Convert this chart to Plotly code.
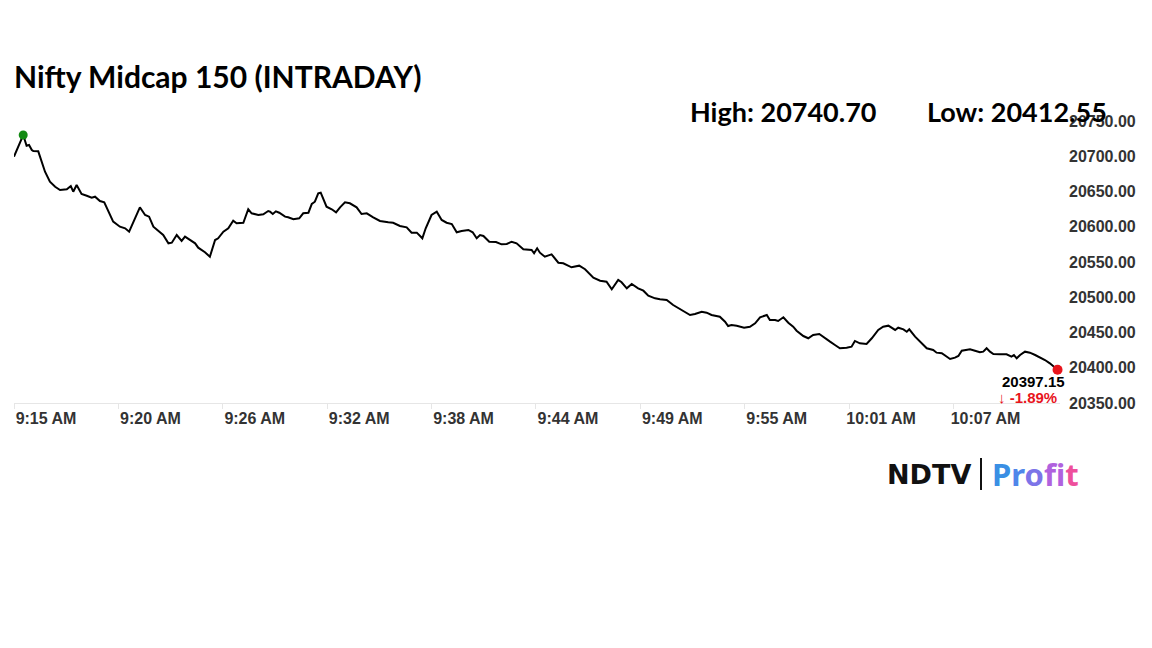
import plotly.graph_objects as go

# ---- data (seconds elapsed since 9:15 AM, index level) ----
elapsed_sec = [
    0, 30, 41, 49, 58, 63, 79, 90, 101, 117,
    134, 150, 172, 185, 193, 204, 220, 237, 253, 264,
    280, 294, 307, 323, 345, 362, 375, 389, 410, 427,
    440, 454, 470, 486, 503, 514, 530, 546, 557, 573,
    590, 600, 622, 638, 655, 665, 682, 698, 714, 725,
    747, 763, 774, 796, 812, 828, 834, 843, 853, 864,
    883, 893, 910, 929, 942, 959, 970, 980, 991, 999,
    1007, 1018, 1035, 1049, 1062, 1078, 1094, 1116, 1132, 1149,
    1170, 1192, 1219, 1235, 1257, 1279, 1295, 1312, 1330, 1341,
    1360, 1377, 1393, 1409, 1426, 1442, 1458, 1480, 1494, 1507,
    1518, 1529, 1548, 1570, 1588, 1605, 1621, 1637, 1659, 1679,
    1686, 1694, 1704, 1713, 1729, 1751, 1773, 1789, 1816, 1841,
    1860, 1887, 1909, 1930, 1947, 1968, 1979, 1996, 2012, 2033,
    2050, 2066, 2088, 2104, 2126, 2147, 2169, 2185, 2202, 2218,
    2240, 2256, 2272, 2299, 2316, 2326, 2337, 2354, 2378, 2397,
    2414, 2430, 2452, 2462, 2479, 2489, 2506, 2522, 2538, 2549,
    2571, 2587, 2603, 2623, 2641, 2658, 2674, 2690, 2712, 2728,
    2739, 2755, 2777, 2794, 2815, 2831, 2848, 2859, 2870, 2880,
    2897, 2908, 2916, 2935, 2956, 2973, 2994, 3005, 3022, 3038,
    3049, 3065, 3076, 3087, 3097, 3114, 3130, 3146, 3157, 3168,
    3179, 3190, 3211, 3233, 3249, 3257, 3266, 3277, 3293, 3309,
    3326, 3342, 3358, 3374, 3399,
]

price = [
    20699.4, 20730.1, 20715.0, 20716.0, 20708.9, 20707.4, 20707.0, 20692.3, 20678.1, 20663.9,
    20656.8, 20652.1, 20653.1, 20657.8, 20649.7, 20659.2, 20646.5, 20644.0, 20641.2, 20642.6,
    20636.5, 20634.7, 20622.3, 20607.2, 20600.1, 20597.8, 20593.0, 20607.2, 20627.6, 20616.7,
    20614.3, 20600.1, 20594.0, 20588.3, 20576.5, 20577.4, 20588.3, 20579.8, 20585.9, 20581.2,
    20576.5, 20570.3, 20563.8, 20557.5, 20581.2, 20583.6, 20593.0, 20597.8, 20608.6, 20604.9,
    20605.7, 20624.8, 20619.1, 20616.7, 20617.7, 20622.3, 20621.4, 20618.1, 20621.9, 20619.9,
    20614.3, 20613.4, 20610.6, 20612.0, 20619.1, 20619.9, 20632.3, 20635.5, 20647.4, 20648.3,
    20640.4, 20628.4, 20624.8, 20620.5, 20627.6, 20634.7, 20633.3, 20627.6, 20618.1, 20619.1,
    20613.4, 20608.2, 20606.3, 20605.7, 20601.1, 20599.2, 20591.6, 20591.6, 20583.6, 20597.8,
    20616.7, 20621.4, 20609.6, 20605.7, 20603.9, 20592.1, 20594.0, 20595.4, 20592.1, 20583.6,
    20588.3, 20586.9, 20578.8, 20578.4, 20575.1, 20575.5, 20578.8, 20576.5, 20568.0, 20568.0,
    20567.0, 20562.3, 20569.4, 20563.2, 20557.5, 20560.9, 20549.0, 20548.2, 20542.5, 20544.8,
    20539.7, 20527.7, 20523.5, 20522.1, 20511.3, 20524.5, 20521.2, 20512.7, 20518.8, 20512.7,
    20509.3, 20502.2, 20498.5, 20497.1, 20496.1, 20489.0, 20482.9, 20479.5, 20474.8, 20476.2,
    20479.5, 20478.1, 20474.8, 20472.4, 20465.3, 20459.2, 20460.6, 20459.6, 20456.8, 20458.2,
    20463.1, 20471.6, 20474.8, 20467.7, 20467.7, 20466.3, 20471.6, 20463.9, 20458.2, 20452.6,
    20445.0, 20441.8, 20446.5, 20447.9, 20441.8, 20437.0, 20432.3, 20427.6, 20428.4, 20429.9,
    20438.0, 20434.7, 20433.7, 20441.8, 20453.6, 20458.2, 20459.7, 20456.8, 20453.6, 20456.8,
    20454.5, 20451.1, 20454.5, 20444.1, 20434.7, 20427.6, 20425.2, 20421.4, 20420.5, 20415.7,
    20412.4, 20414.3, 20416.7, 20424.2, 20425.2, 20426.2, 20424.2, 20421.9, 20422.8, 20427.6,
    20422.8, 20419.5, 20419.1, 20419.1, 20415.7, 20418.1, 20413.4, 20418.1, 20422.8, 20421.4,
    20418.1, 20414.8, 20411.0, 20406.3, 20397.15,
]

tick_secs = [0, 340, 680, 1020, 1360, 1700, 2040, 2380, 2720, 3060]
tick_labels = ["9:15 AM", "9:20 AM", "9:26 AM", "9:32 AM", "9:38 AM",
               "9:44 AM", "9:49 AM", "9:55 AM", "10:01 AM", "10:07 AM"]

y_ticks = [20350, 20400, 20450, 20500, 20550, 20600, 20650, 20700, 20750]

title_text = "Nifty Midcap 150 (INTRADAY)"
day_high = "20740.70"
day_low = "20412.55"
pct_change = "-1.89%"

assert len(elapsed_sec) == len(price)

hi_idx = max(range(len(price)), key=lambda i: price[i])

fig = go.Figure()
fig.add_trace(go.Scatter(
    x=elapsed_sec, y=price, mode="lines",
    line=dict(color="#000000", width=2),
    hoverinfo="skip", showlegend=False,
))
fig.add_trace(go.Scatter(
    x=[elapsed_sec[hi_idx]], y=[price[hi_idx]], mode="markers",
    marker=dict(color="#138a13", size=9), cliponaxis=False,
    hoverinfo="skip", showlegend=False,
))
fig.add_trace(go.Scatter(
    x=[elapsed_sec[-1]], y=[price[-1]], mode="markers",
    marker=dict(color="#e8141c", size=10), cliponaxis=False,
    hoverinfo="skip", showlegend=False,
))

AX_FONT = dict(family="Liberation Sans, Arial, sans-serif", size=16, color="#333333", weight="bold")

# the page body adds an 8px offset, so the figure is drawn 8px smaller
fig.update_layout(
    width=1144, height=640,
    paper_bgcolor="white", plot_bgcolor="white",
    margin=dict(l=6, r=92, t=113, b=245, autoexpand=False),
    showlegend=False,
    xaxis=dict(
        range=[0, 3407],
        tickmode="array", tickvals=tick_secs, ticktext=tick_labels,
        showgrid=False, zeroline=False,
        showline=True, linecolor="#e6e6e6", linewidth=1,
        ticks="outside", ticklen=5, tickcolor="#e6e6e6",
        tickfont=AX_FONT, ticklabelshift=32, ticklabelstandoff=-4,
        automargin=False,
    ),
    yaxis=dict(
        range=[20350, 20750], side="right",
        tickmode="array", tickvals=y_ticks,
        ticktext=[f"{v:.2f}" for v in y_ticks],
        showgrid=False, zeroline=False, showline=False,
        tickfont=AX_FONT, ticklabelstandoff=8,
        automargin=False,
    ),
)

TITLE_FONT = "Lato, Noto Sans, sans-serif"
ann = []
ann.append(dict(
    text=f"<b>{title_text}</b>", xref="paper", yref="paper",
    x=-0.0019, y=1.16, xanchor="left", yanchor="middle", showarrow=False,
    font=dict(family=TITLE_FONT, size=30, color="#000000"),
))
ann.append(dict(
    text=f"<b>High: {day_high}</b>", xref="paper", yref="paper",
    x=0.6444, y=1.032, xanchor="left", yanchor="middle", showarrow=False,
    font=dict(family=TITLE_FONT, size=27, color="#000000"),
))
ann.append(dict(
    text=f"<b>Low: {day_low}</b>", xref="paper", yref="paper",
    x=0.8709, y=1.032, xanchor="left", yanchor="middle", showarrow=False,
    font=dict(family=TITLE_FONT, size=27, color="#000000"),
))
# last value label
ann.append(dict(
    text=f"<b>{price[-1]:.2f}</b>", x=elapsed_sec[-1], y=price[-1],
    xref="x", yref="y", xanchor="center", yanchor="middle",
    xshift=-24, yshift=-12, showarrow=False,
    font=dict(family="Liberation Sans, Arial, sans-serif", size=15, color="#000000"),
))
ann.append(dict(
    text=f"<b>\u2193 {pct_change}</b>", x=elapsed_sec[-1], y=price[-1],
    xref="x", yref="y", xanchor="center", yanchor="middle",
    xshift=-30, yshift=-28, showarrow=False,
    font=dict(family="Liberation Sans, Arial, sans-serif", size=15, color="#e8141c"),
))
# logo
ann.append(dict(
    text="<b>NDTV</b>", xref="paper", yref="paper",
    x=0.8327, y=-0.2518, xanchor="left", yanchor="middle", showarrow=False,
    font=dict(family="DejaVu Sans, sans-serif", size=27, color="#111111"),
))
profit_colors = ["#3a8fe4", "#4f86ea", "#7c74e8", "#b062de", "#d857c8", "#ee4f9c"]
profit_html = "".join(
    f"<span style='color:{c}'>{ch}</span>" for ch, c in zip("Profit", profit_colors)
)
ann.append(dict(
    text=f"<b>{profit_html}</b>", xref="paper", yref="paper",
    x=0.9331, y=-0.2518, xanchor="left", yanchor="middle", showarrow=False,
    font=dict(family="Noto Sans, sans-serif", size=31, color="#3a8fe4"),
))
fig.update_layout(annotations=ann)
fig.add_shape(type="line", xref="paper", yref="paper",
              x0=0.9245, x1=0.9245, y0=-0.195, y1=-0.3085,
              line=dict(color="#111111", width=2))

fig.write_html("out.html")
